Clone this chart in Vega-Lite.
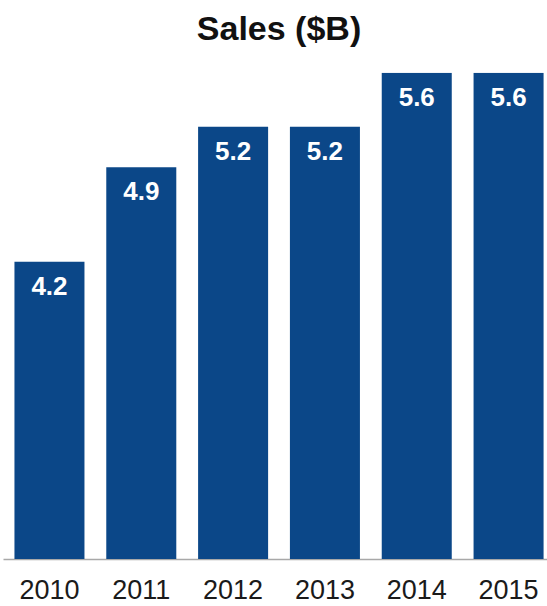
{
  "$schema": "https://vega.github.io/schema/vega-lite/v6.json",
  "width": 544,
  "height": 486.3,
  "autosize": {"type": "none"},
  "padding": {"top": 72.7, "left": 3, "right": 0, "bottom": 47},
  "background": "white",
  "title": {
    "text": "Sales ($B)",
    "font": "Liberation Sans",
    "fontSize": 34,
    "fontWeight": "bold",
    "color": "#111111",
    "anchor": "middle",
    "dx": 4,
    "offset": 26
  },
  "data": {
    "values": [
      {"year": "2010", "sales": 4.2},
      {"year": "2011", "sales": 4.9},
      {"year": "2012", "sales": 5.2},
      {"year": "2013", "sales": 5.2},
      {"year": "2014", "sales": 5.6},
      {"year": "2015", "sales": 5.6}
    ]
  },
  "config": {"view": {"stroke": null}},
  "encoding": {
    "x": {
      "field": "year",
      "type": "nominal",
      "sort": null,
      "scale": {"paddingInner": 0.2375, "paddingOuter": 0.081, "align": 0.77, "round": false},
      "axis": {
        "title": null,
        "labelAngle": 0,
        "labelFont": "Liberation Sans",
        "labelFontSize": 27,
        "labelColor": "#1a1a1a",
        "labelPadding": 18,
        "ticks": false,
        "domainColor": "#a8a8a8",
        "domainWidth": 1.5
      }
    },
    "y": {
      "field": "sales",
      "type": "quantitative",
      "scale": {"domain": [2, 5.6], "nice": false, "zero": false},
      "axis": null
    }
  },
  "layer": [
    {"mark": {"type": "bar", "color": "#0b4788", "clip": true}},
    {
      "mark": {
        "type": "text",
        "color": "white",
        "font": "Liberation Sans",
        "fontSize": 26,
        "fontWeight": "bold",
        "baseline": "alphabetic",
        "dy": 33
      },
      "encoding": {"text": {"field": "sales", "type": "quantitative", "format": ".1f"}}
    }
  ]
}
